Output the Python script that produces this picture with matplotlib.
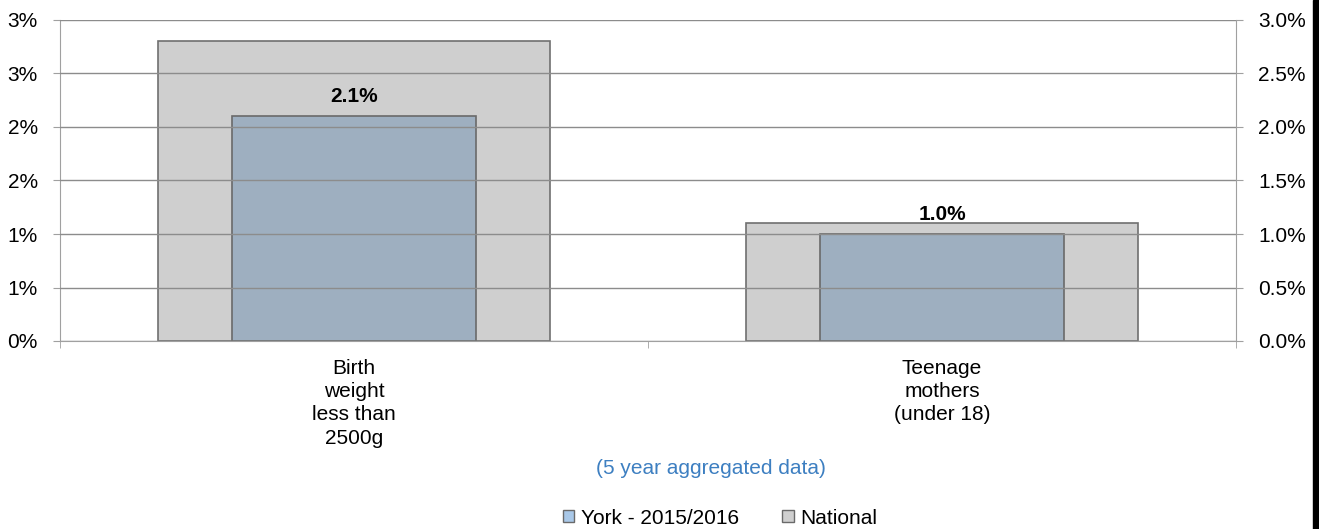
import math
import matplotlib
matplotlib.use("Agg")
import matplotlib.pyplot as plt
from matplotlib.patches import Patch, Rectangle
from matplotlib.ticker import FuncFormatter, MultipleLocator

plt.rcParams['font.family'] = ['Liberation Sans', 'DejaVu Sans']

categories = ["Birth\nweight\nless than\n2500g", "Teenage\nmothers\n(under 18)"]
york = [2.1, 1.0]
national = [2.8, 1.1]
york_label = "York - 2015/2016"
national_label = "National"
subtitle = "(5 year aggregated data)"

W, H = 1319, 529
fig = plt.figure(figsize=(W / 100, H / 100), dpi=100)
ax = fig.add_axes([60 / W, (H - 341) / H, (1236 - 60) / W, (341 - 20) / H])

x = list(range(len(categories)))
ax.bar(x, national, width=0.667, color="#cfcfcf", edgecolor="#707070", linewidth=1.2, zorder=1)
ax.bar(x, york, width=0.415, color="#9eafc0", edgecolor="#6a6a6a", linewidth=1.2, zorder=2)

for xi, v in zip(x, york):
    ax.annotate(f"{v:.1f}%", (xi, v), xytext=(0, 7.5), textcoords="offset points",
                ha="center", va="bottom", fontsize=15, fontweight="bold", zorder=5)

ax.set_xlim(-0.5, 1.5)
ax.set_ylim(0, 3)
ax.yaxis.set_major_locator(MultipleLocator(0.5))
for y in [0.5 * i for i in range(7)]:
    ax.axhline(y, color="#8c8c8c", linewidth=1, zorder=3)


def left_fmt(v, pos):
    # Excel style rounding, half up
    return f"{math.floor(v + 0.5)}%"


ax.yaxis.set_major_formatter(FuncFormatter(left_fmt))
ax.set_xticks(x)
ax.set_xticklabels(categories, fontsize=15, linespacing=1.28)
ax.set_xticks([-0.5, 0.5, 1.5], minor=True)
ax.tick_params(axis="x", which="major", length=0, pad=13)
ax.tick_params(axis="x", which="minor", length=5, color="#a0a0a0", direction="out")
ax.tick_params(axis="y", length=5, color="#a0a0a0", labelsize=15, pad=11)

for s in ["top", "right"]:
    ax.spines[s].set_visible(False)
ax.spines["left"].set_color("#a0a0a0")
ax.spines["bottom"].set_color("#a0a0a0")

ax2 = ax.twinx()
ax2.set_ylim(0, 3)
ax2.yaxis.set_major_locator(MultipleLocator(0.5))
ax2.yaxis.set_major_formatter(FuncFormatter(lambda v, p: f"{v:.1f}%"))
ax2.tick_params(axis="y", length=5, color="#a0a0a0", labelsize=15, pad=11)
for s in ["top", "left", "bottom"]:
    ax2.spines[s].set_visible(False)
ax2.spines["right"].set_color("#a0a0a0")

fig.text(711 / W, 1 - 468 / H, subtitle, color="#3d7fc1", fontsize=15, ha="center", va="center")

handles = [Patch(facecolor="#a9c8e8", edgecolor="#6a6a6a", label=york_label),
           Patch(facecolor="#cfcfcf", edgecolor="#6a6a6a", label=national_label)]
fig.legend(handles=handles, loc="center", bbox_to_anchor=(720 / W, 1 - 518 / H), ncol=2,
           frameon=False, fontsize=15, handlelength=0.55, handleheight=0.55,
           handletextpad=0.3, columnspacing=2.1)

fig.patches.append(Rectangle((1313 / W, 0), 6 / W, 1, transform=fig.transFigure,
                             color="black", zorder=10))

fig.savefig("out.png", dpi=100)
